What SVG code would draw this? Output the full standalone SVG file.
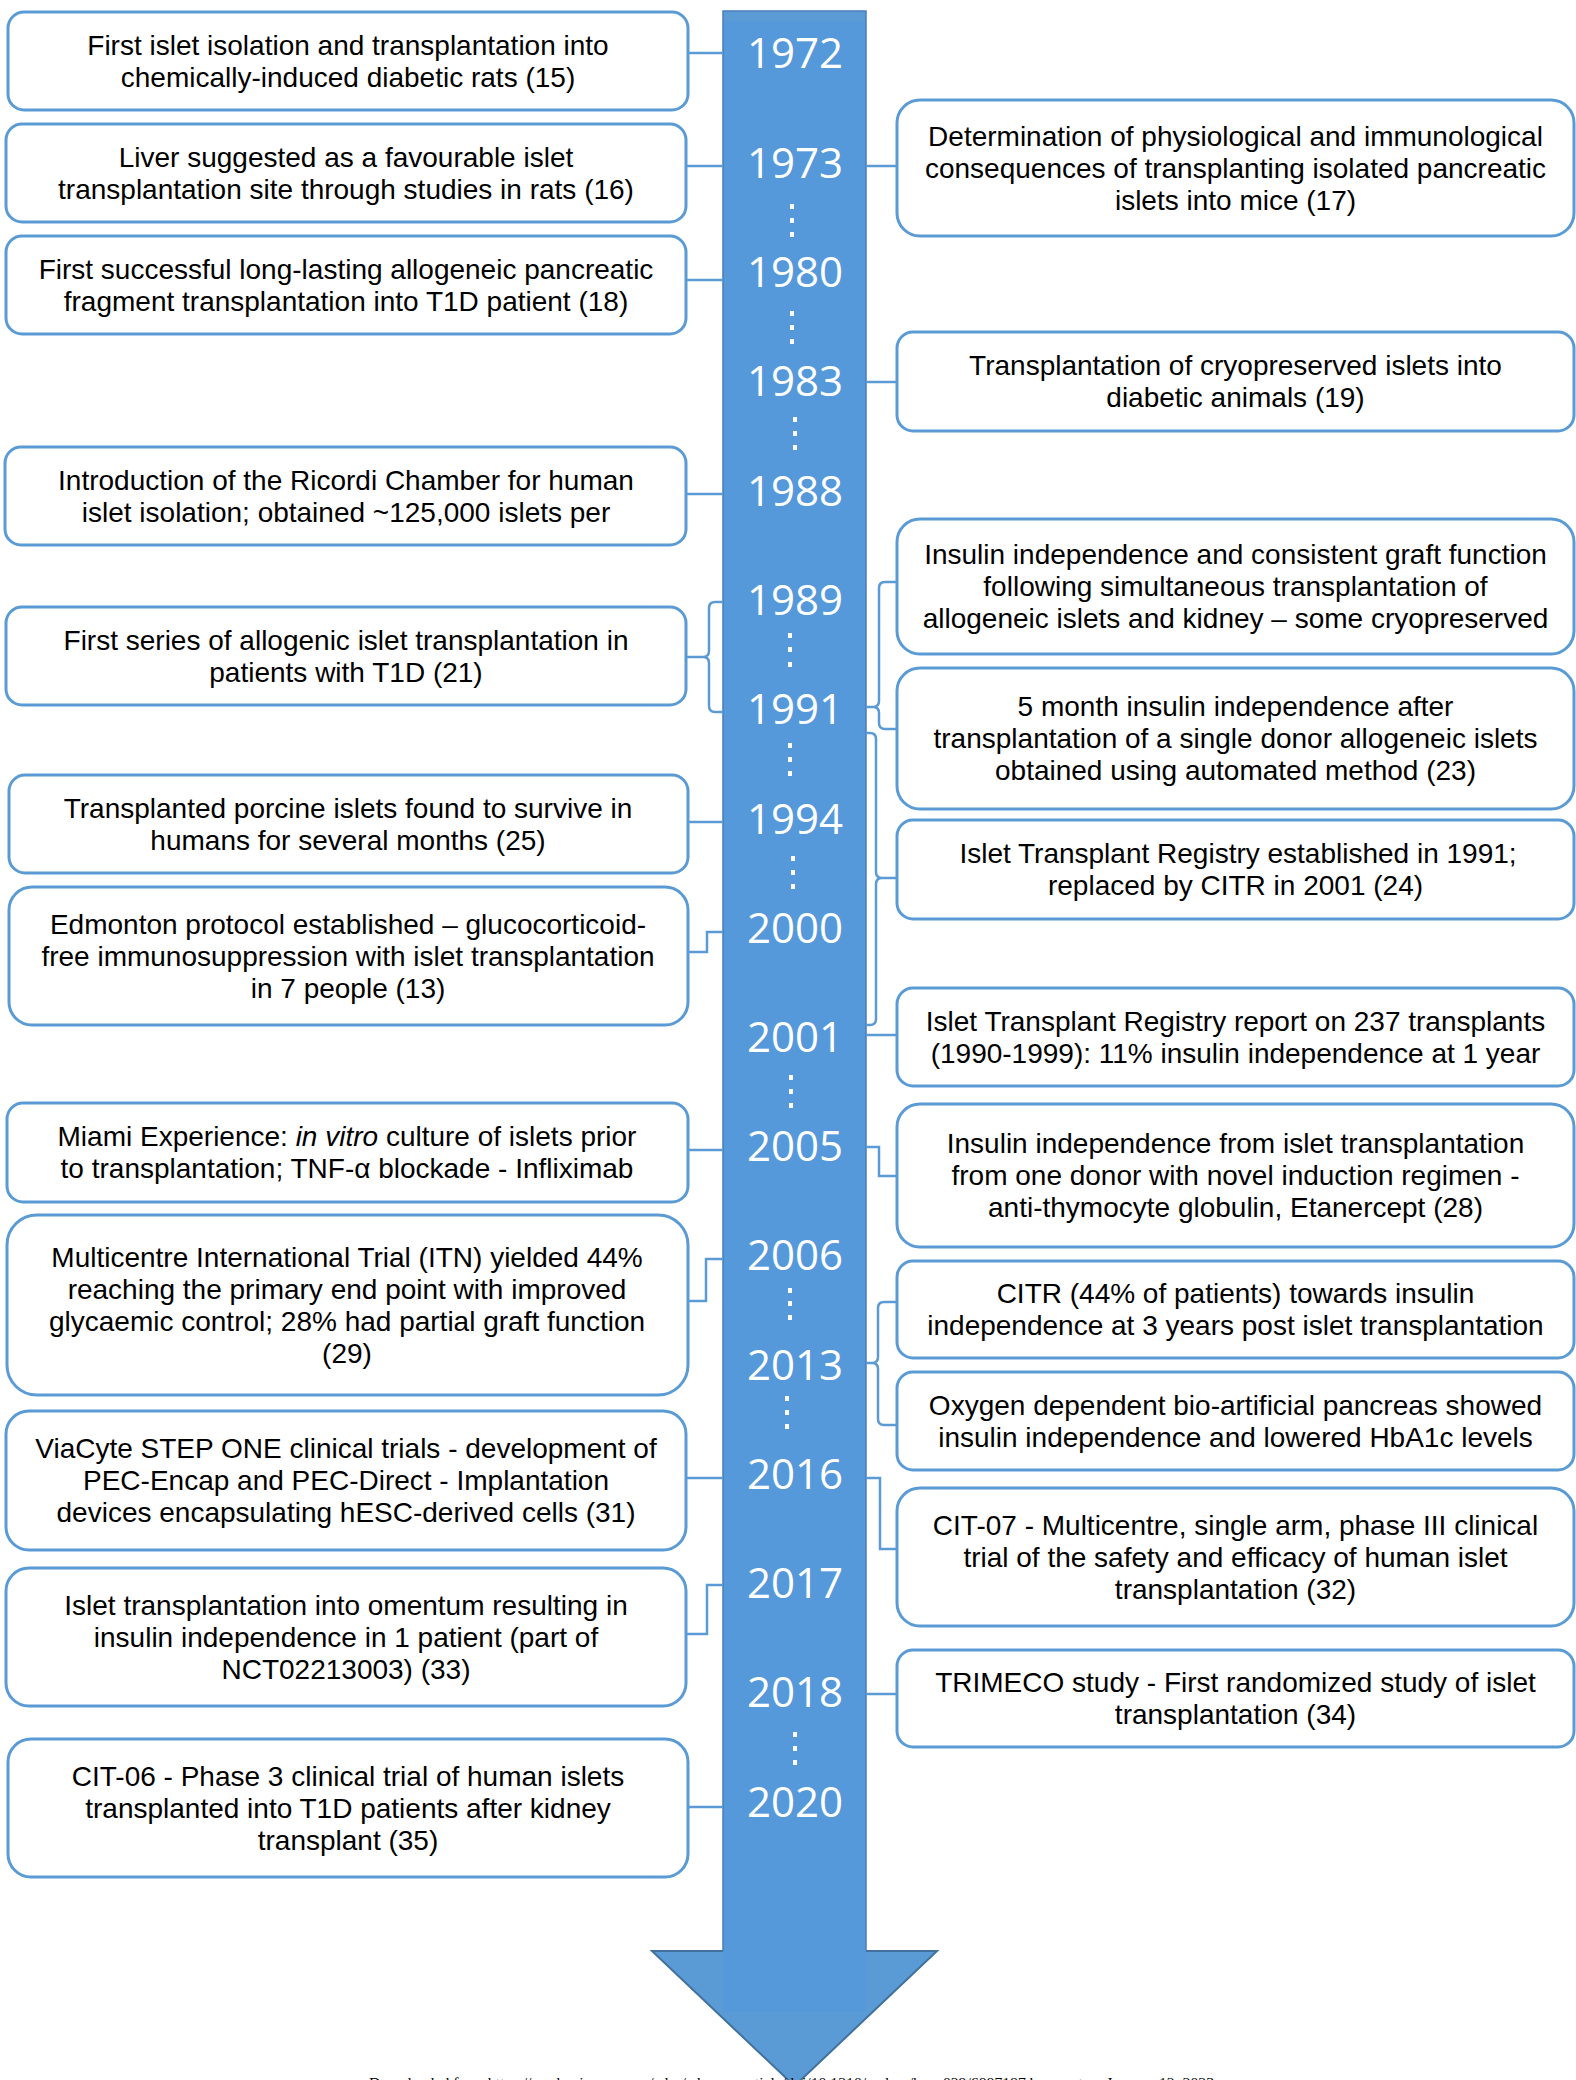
<svg xmlns="http://www.w3.org/2000/svg" width="1576" height="2080" viewBox="0 0 1576 2080">
<style>
.box{fill:#fff;stroke:#5B9BD5;stroke-width:3}
.t{font-family:"Liberation Sans",Arial,sans-serif;font-size:28px;fill:#000;text-anchor:middle}
.yr{font-family:"Open Sans",sans-serif;font-size:42px;fill:#fff;text-anchor:middle}
.c{fill:none;stroke:#5B9BD5;stroke-width:2.5}
.dot{fill:#fff}
.foot{font-family:"Liberation Serif","Times New Roman",serif;font-size:15px;fill:#000}
</style>
<rect width="1576" height="2080" fill="#fff"/>
<g id="timeline-arrow">
<polygon points="652,1951 937,1951 794.5,2086" fill="#5B9BD5" stroke="#41719C" stroke-width="2"/>
<rect x="723" y="11" width="143" height="2001" fill="#5599DB"/>
<rect x="723" y="11" width="143" height="10" fill="#5B9BD5"/>
<path d="M723,1951 V11 H866 V1951" fill="none" stroke="#4A7EBB" stroke-width="1.5"/>
</g>
<g id="years">
<text class="yr" x="795" y="68">1972</text>
<text class="yr" x="795" y="178">1973</text>
<text class="yr" x="795" y="287">1980</text>
<text class="yr" x="795" y="396">1983</text>
<text class="yr" x="795" y="506">1988</text>
<text class="yr" x="795" y="615">1989</text>
<text class="yr" x="795" y="724">1991</text>
<text class="yr" x="795" y="834">1994</text>
<text class="yr" x="795" y="943">2000</text>
<text class="yr" x="795" y="1052">2001</text>
<text class="yr" x="795" y="1161">2005</text>
<text class="yr" x="795" y="1270">2006</text>
<text class="yr" x="795" y="1380">2013</text>
<text class="yr" x="795" y="1489">2016</text>
<text class="yr" x="795" y="1598">2017</text>
<text class="yr" x="795" y="1707">2018</text>
<text class="yr" x="795" y="1817">2020</text>
</g>
<g id="dots">
<rect class="dot" x="790" y="204" width="4" height="5"/><rect class="dot" x="790" y="218" width="4" height="5"/><rect class="dot" x="790" y="232" width="4" height="5"/>
<rect class="dot" x="790" y="311" width="4" height="5"/><rect class="dot" x="790" y="325" width="4" height="5"/><rect class="dot" x="790" y="339" width="4" height="5"/>
<rect class="dot" x="793" y="417" width="4" height="5"/><rect class="dot" x="793" y="431" width="4" height="5"/><rect class="dot" x="793" y="445" width="4" height="5"/>
<rect class="dot" x="788" y="633" width="4" height="5"/><rect class="dot" x="788" y="647" width="4" height="5"/><rect class="dot" x="788" y="662" width="4" height="5"/>
<rect class="dot" x="788" y="743" width="4" height="5"/><rect class="dot" x="788" y="757" width="4" height="5"/><rect class="dot" x="788" y="771" width="4" height="5"/>
<rect class="dot" x="791" y="856" width="4" height="5"/><rect class="dot" x="791" y="870" width="4" height="5"/><rect class="dot" x="791" y="884" width="4" height="5"/>
<rect class="dot" x="789" y="1075" width="4" height="5"/><rect class="dot" x="789" y="1089" width="4" height="5"/><rect class="dot" x="789" y="1103" width="4" height="5"/>
<rect class="dot" x="788" y="1288" width="4" height="5"/><rect class="dot" x="788" y="1301" width="4" height="5"/><rect class="dot" x="788" y="1315" width="4" height="5"/>
<rect class="dot" x="785" y="1396" width="4" height="5"/><rect class="dot" x="785" y="1410" width="4" height="5"/><rect class="dot" x="785" y="1424" width="4" height="5"/>
<rect class="dot" x="793" y="1732" width="4" height="5"/><rect class="dot" x="793" y="1746" width="4" height="5"/><rect class="dot" x="793" y="1760" width="4" height="5"/>
</g>
<g id="connectors">
<path class="c" d="M688,53 H723"/>
<path class="c" d="M686,166 H723"/>
<path class="c" d="M686,280 H723"/>
<path class="c" d="M686,494 H723"/>
<path class="c" d="M723,602 H715 Q709,602 709,608 V651 Q709,657 703,657 H686 M703,657 Q709,657 709,663 V706 Q709,712 715,712 H723"/>
<path class="c" d="M688,822 H723"/>
<path class="c" d="M688,952 H707 V932 H723"/>
<path class="c" d="M688,1150 H723"/>
<path class="c" d="M688,1301 H706 V1259 H723"/>
<path class="c" d="M686,1478 H723"/>
<path class="c" d="M686,1634 H707 V1585 H723"/>
<path class="c" d="M688,1807 H723"/>
<path class="c" d="M866,166 H897"/>
<path class="c" d="M866,382 H897"/>
<path class="c" d="M897,582 H885 Q879,582 879,588 V701 Q879,707 873,707 H866 M873,707 Q879,707 879,713 V723 Q879,729 885,729 H897"/>
<path class="c" d="M866,733 H870 Q876,733 876,739 V872 Q876,878 882,878 H897 M882,878 Q876,878 876,884 V1019 Q876,1025 870,1025 H866"/>
<path class="c" d="M866,1035 H897"/>
<path class="c" d="M866,1147 H879 V1176 H897"/>
<path class="c" d="M897,1302 H884 Q878,1302 878,1308 V1357 Q878,1363 872,1363 H866 M872,1363 Q878,1363 878,1369 V1419 Q878,1425 884,1425 H897"/>
<path class="c" d="M866,1478 H880 V1549 H897"/>
<path class="c" d="M866,1694 H897"/>
</g>
<g id="L1"><rect class="box" x="8" y="12" width="680" height="98" rx="16"/>
<text class="t" x="348" y="54.5">First islet isolation and transplantation into</text>
<text class="t" x="348" y="86.5">chemically-induced diabetic rats (15)</text></g>
<g id="L2"><rect class="box" x="6" y="124" width="680" height="98" rx="16"/>
<text class="t" x="346" y="166.5">Liver suggested as a favourable islet</text>
<text class="t" x="346" y="198.5">transplantation site through studies in rats (16)</text></g>
<g id="L3"><rect class="box" x="6" y="236" width="680" height="98" rx="16"/>
<text class="t" x="346" y="278.5">First successful long-lasting allogeneic pancreatic</text>
<text class="t" x="346" y="310.5">fragment transplantation into T1D patient (18)</text></g>
<g id="L4"><rect class="box" x="5" y="447" width="681" height="98" rx="16"/>
<text class="t" x="346" y="489.5">Introduction of the Ricordi Chamber for human</text>
<text class="t" x="346" y="521.5">islet isolation; obtained ~125,000 islets per</text></g>
<g id="L5"><rect class="box" x="6" y="607" width="680" height="98" rx="16"/>
<text class="t" x="346" y="649.5">First series of allogenic islet transplantation in</text>
<text class="t" x="346" y="681.5">patients with T1D (21)</text></g>
<g id="L6"><rect class="box" x="9" y="775" width="679" height="98" rx="16"/>
<text class="t" x="348" y="817.5">Transplanted porcine islets found to survive in</text>
<text class="t" x="348" y="849.5">humans for several months (25)</text></g>
<g id="L7"><rect class="box" x="9" y="887" width="679" height="138" rx="23"/>
<text class="t" x="348" y="933.5">Edmonton protocol established – glucocorticoid-</text>
<text class="t" x="348" y="965.5">free immunosuppression with islet transplantation</text>
<text class="t" x="348" y="997.5">in 7 people (13)</text></g>
<g id="L8"><rect class="box" x="7" y="1103" width="681" height="99" rx="16"/>
<text class="t" x="347" y="1146">Miami Experience: <tspan font-style="italic">in vitro</tspan> culture of islets prior</text>
<text class="t" x="347" y="1178">to transplantation; TNF-α blockade - Infliximab</text></g>
<g id="L9"><rect class="box" x="7" y="1215" width="681" height="180" rx="30"/>
<text class="t" x="347" y="1266.5">Multicentre International Trial (ITN) yielded 44%</text>
<text class="t" x="347" y="1298.5">reaching the primary end point with improved</text>
<text class="t" x="347" y="1330.5">glycaemic control; 28% had partial graft function</text>
<text class="t" x="347" y="1362.5">(29)</text></g>
<g id="L10"><rect class="box" x="6" y="1411" width="680" height="139" rx="23"/>
<text class="t" x="346" y="1458">ViaCyte STEP ONE clinical trials - development of</text>
<text class="t" x="346" y="1490">PEC-Encap and PEC-Direct - Implantation</text>
<text class="t" x="346" y="1522">devices encapsulating hESC-derived cells (31)</text></g>
<g id="L11"><rect class="box" x="6" y="1568" width="680" height="138" rx="23"/>
<text class="t" x="346" y="1614.5">Islet transplantation into omentum resulting in</text>
<text class="t" x="346" y="1646.5">insulin independence in 1 patient (part of</text>
<text class="t" x="346" y="1678.5">NCT02213003) (33)</text></g>
<g id="L12"><rect class="box" x="8" y="1739" width="680" height="138" rx="23"/>
<text class="t" x="348" y="1785.5">CIT-06 - Phase 3 clinical trial of human islets</text>
<text class="t" x="348" y="1817.5">transplanted into T1D patients after kidney</text>
<text class="t" x="348" y="1849.5">transplant (35)</text></g>
<g id="R1"><rect class="box" x="897" y="100" width="677" height="136" rx="23"/>
<text class="t" x="1235.5" y="145.5">Determination of physiological and immunological</text>
<text class="t" x="1235.5" y="177.5">consequences of transplanting isolated pancreatic</text>
<text class="t" x="1235.5" y="209.5">islets into mice (17)</text></g>
<g id="R2"><rect class="box" x="897" y="332" width="677" height="99" rx="16"/>
<text class="t" x="1235.5" y="375">Transplantation of cryopreserved islets into</text>
<text class="t" x="1235.5" y="407">diabetic animals (19)</text></g>
<g id="R3"><rect class="box" x="897" y="519" width="677" height="135" rx="23"/>
<text class="t" x="1235.5" y="564">Insulin independence and consistent graft function</text>
<text class="t" x="1235.5" y="596">following simultaneous transplantation of</text>
<text class="t" x="1235.5" y="628">allogeneic islets and kidney – some cryopreserved</text></g>
<g id="R4"><rect class="box" x="897" y="668" width="677" height="141" rx="23"/>
<text class="t" x="1235.5" y="716">5 month insulin independence after</text>
<text class="t" x="1235.5" y="748">transplantation of a single donor allogeneic islets</text>
<text class="t" x="1235.5" y="780">obtained using automated method (23)</text></g>
<g id="R5"><rect class="box" x="897" y="820" width="677" height="99" rx="16"/>
<text class="t" x="1238" y="863">Islet Transplant Registry established in 1991;</text>
<text class="t" x="1235.5" y="895">replaced by CITR in 2001 (24)</text></g>
<g id="R6"><rect class="box" x="897" y="988" width="677" height="98" rx="16"/>
<text class="t" x="1235.5" y="1030.5">Islet Transplant Registry report on 237 transplants</text>
<text class="t" x="1235.5" y="1062.5">(1990-1999): 11% insulin independence at 1 year</text></g>
<g id="R7"><rect class="box" x="897" y="1104" width="677" height="143" rx="23"/>
<text class="t" x="1235.5" y="1153">Insulin independence from islet transplantation</text>
<text class="t" x="1235.5" y="1185">from one donor with novel induction regimen -</text>
<text class="t" x="1235.5" y="1217">anti-thymocyte globulin, Etanercept (28)</text></g>
<g id="R8"><rect class="box" x="897" y="1261" width="677" height="97" rx="16"/>
<text class="t" x="1235.5" y="1303">CITR (44% of patients) towards insulin</text>
<text class="t" x="1235.5" y="1335">independence at 3 years post islet transplantation</text></g>
<g id="R9"><rect class="box" x="897" y="1372" width="677" height="98" rx="16"/>
<text class="t" x="1235.5" y="1414.5">Oxygen dependent bio-artificial pancreas showed</text>
<text class="t" x="1235.5" y="1446.5">insulin independence and lowered HbA1c levels</text></g>
<g id="R10"><rect class="box" x="897" y="1488" width="677" height="138" rx="23"/>
<text class="t" x="1235.5" y="1534.5">CIT-07 - Multicentre, single arm, phase III clinical</text>
<text class="t" x="1235.5" y="1566.5">trial of the safety and efficacy of human islet</text>
<text class="t" x="1235.5" y="1598.5">transplantation (32)</text></g>
<g id="R11"><rect class="box" x="897" y="1650" width="677" height="97" rx="16"/>
<text class="t" x="1235.5" y="1692">TRIMECO study - First randomized study of islet</text>
<text class="t" x="1235.5" y="1724">transplantation (34)</text></g>
<text class="foot" x="369" y="2088" textLength="845" lengthAdjust="spacingAndGlyphs">Downloaded from https://academic.oup.com/edrv/advance-article/doi/10.1210/endrev/bnac029/6887197 by guest on January 12, 2023</text>
</svg>
